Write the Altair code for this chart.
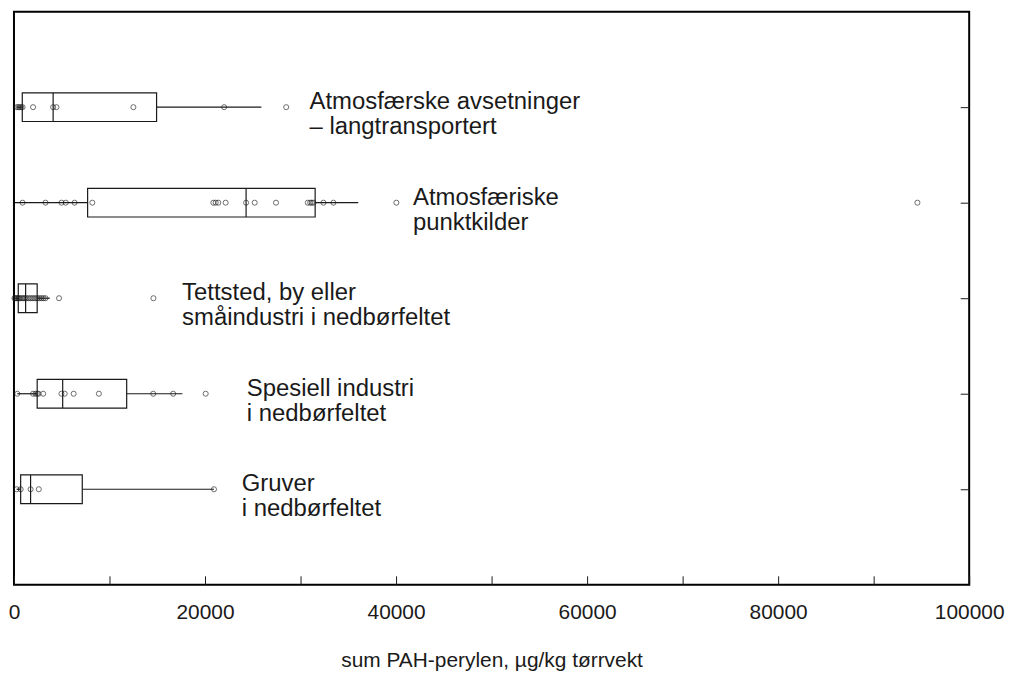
import altair as alt
import pandas as pd

# Categories (bottom to top position 1..5)
categories = [
    "Gruver i nedbørfeltet",
    "Spesiell industri i nedbørfeltet",
    "Tettsted, by eller småindustri i nedbørfeltet",
    "Atmosfæriske punktkilder",
    "Atmosfærske avsetninger – langtransportert",
]
positions = [1, 2, 3, 4, 5]
label_lines = [
    "Gruver\ni nedbørfeltet",
    "Spesiell industri\ni nedbørfeltet",
    "Tettsted, by eller\nsmåindustri i nedbørfeltet",
    "Atmosfæriske\npunktkilder",
    "Atmosfærske avsetninger\n– langtransportert",
]
label_x = [23850, 24380, 17600, 41770, 30940]

# Box statistics
whisker_lo = [280, 350, 50, 100, 250]
q1 = [700, 2430, 450, 7710, 870]
median = [1740, 5100, 1220, 24300, 4100]
q3 = [7150, 11800, 2430, 31530, 14930]
whisker_hi = [20940, 17640, 3750, 36040, 25900]

# Individual observations
obs_gruver = [280, 700, 1740, 2600, 20940]
obs_spesiell = [350, 2000, 2260, 2430, 2570, 3060, 4970, 5310, 6250, 8890, 14580, 16670, 20070]
obs_tettsted = [50, 150, 250, 350, 450, 550, 700, 850, 1000, 1150, 1300, 1500, 1700,
                1900, 2100, 2300, 2500, 2700, 2900, 3100, 3300, 4720, 14600]
obs_punkt = [900, 3300, 4970, 5420, 6350, 8200, 20870, 21120, 21390, 22160, 24300, 25200,
             27430, 30760, 31010, 31180, 31360, 32400, 33440, 40030, 94580]
obs_avsetn = [300, 450, 600, 750, 900, 2000, 4100, 4450, 12500, 22000, 28500]

x_ticks = [0, 10000, 20000, 30000, 40000, 50000, 60000, 70000, 80000, 90000, 100000]

box_df = pd.DataFrame({
    "cat": categories, "pos": positions, "lo": whisker_lo, "q1": q1,
    "med": median, "q3": q3, "hi": whisker_hi, "label": label_lines, "lx": label_x,
})

obs_lists = [obs_gruver, obs_spesiell, obs_tettsted, obs_punkt, obs_avsetn]
pts_df = pd.DataFrame(
    [{"pos": p, "v": v} for p, lst in zip(positions, obs_lists) for v in lst]
)

W, H = 960, 576
INK = "#1a1a1a"
FONT = "Liberation Sans"

xscale = alt.Scale(domain=[0, 100000], nice=False, zero=False)
yscale = alt.Scale(domain=[0, 6], nice=False, zero=False)

x_axis = alt.Axis(
    values=x_ticks,
    labelExpr="datum.value % 20000 == 0 ? format(datum.value, 'd') : ''",
    ticks=True, tickSize=9, tickColor=INK, tickWidth=1, offset=-9,
    domain=False, grid=False,
    labelFontSize=21, labelFont=FONT, labelColor=INK, labelPadding=17,
    labelFlush=False, labelOverlap=False,
    title="sum PAH-perylen, µg/kg tørrvekt",
    titleFontSize=21, titleFont=FONT, titleFontWeight="normal",
    titleColor=INK, titlePadding=27,
)

y_axis = alt.Axis(
    orient="right", values=positions, ticks=True, tickSize=9, tickColor=INK,
    tickWidth=1, offset=-9, labels=False, domain=False, grid=False, title=None,
)

base = alt.Chart(box_df)

boxes = base.transform_calculate(
    y0="datum.pos - 0.15", y1="datum.pos + 0.15"
).mark_rect(fill="white", stroke=INK, strokeWidth=1.2).encode(
    x=alt.X("q1:Q", scale=xscale, axis=x_axis),
    x2="q3:Q",
    y=alt.Y("y0:Q", scale=yscale, axis=y_axis),
    y2="y1:Q",
)

medians = base.transform_calculate(
    y0="datum.pos - 0.15", y1="datum.pos + 0.15"
).mark_rule(color=INK, strokeWidth=1.2).encode(
    x="med:Q", y="y0:Q", y2="y1:Q",
)

whisk_lo = base.mark_rule(color=INK, strokeWidth=1.2).encode(
    x="lo:Q", x2="q1:Q", y="pos:Q",
)
whisk_hi = base.mark_rule(color=INK, strokeWidth=1.2).encode(
    x="q3:Q", x2="hi:Q", y="pos:Q",
)

points = alt.Chart(pts_df).mark_point(
    shape="circle", size=26, filled=False, stroke=INK, strokeWidth=0.9
).encode(x="v:Q", y="pos:Q")

labels = base.mark_text(
    align="left", baseline="middle", fontSize=24, font=FONT, color=INK,
    lineBreak="\n", lineHeight=25, dy=-5,
).encode(x="lx:Q", y="pos:Q", text="label:N")

chart = alt.layer(
    whisk_lo, whisk_hi, boxes, medians, points, labels
).properties(
    width=W, height=H,
    autosize=alt.AutoSizeParams(type="none"),
    padding={"left": 6, "top": 2, "right": 37, "bottom": 87},
    background="white",
).configure_view(stroke="black", strokeWidth=2)

chart.save("out.html", embed_options={"renderer": "svg", "actions": False})
